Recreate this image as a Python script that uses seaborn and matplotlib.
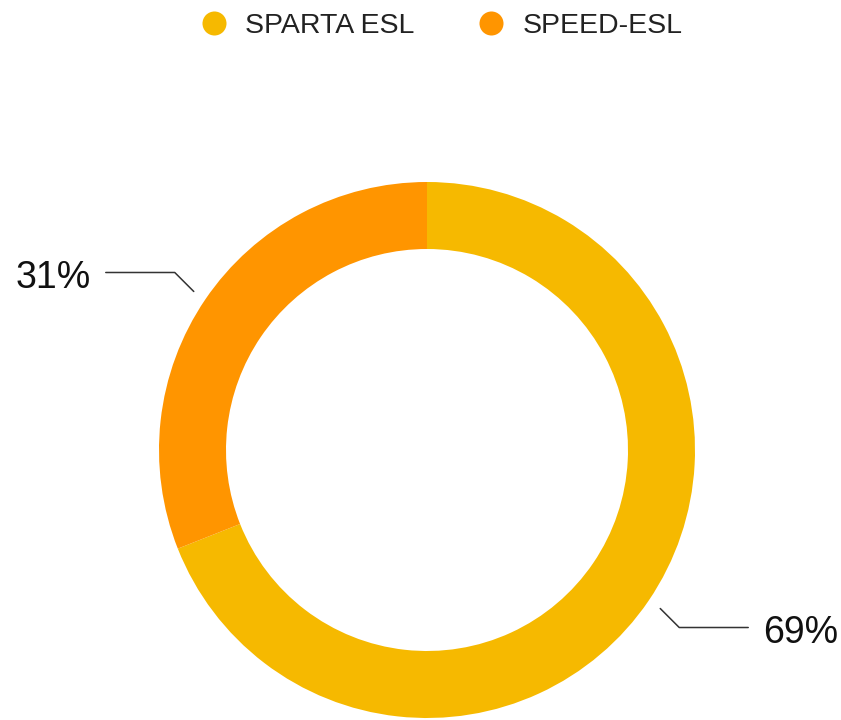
import numpy as np
import matplotlib.pyplot as plt
import seaborn as sns
from matplotlib.lines import Line2D

# data
labels = ["SPARTA ESL", "SPEED-ESL"]
shares = [69, 31]
colors = ["#F6B900", "#FF9500"]

sns.set_theme(style="white")
plt.rcParams['font.family'] = ['Liberation Sans', 'DejaVu Sans']

fig = plt.figure(figsize=(8.41, 7.2), dpi=100)
ax = fig.add_axes([0, 0, 1, 1])

cx, cy, r = 427, 270, 268
wedges, _ = ax.pie(shares, colors=colors, startangle=90, counterclock=False,
                   radius=r, center=(cx, cy), frame=True,
                   wedgeprops=dict(width=67, linewidth=0))
ax.set_xlim(0, 841)
ax.set_ylim(0, 720)
ax.axis("off")

# leader lines + percent labels
for w, s in zip(wedges, shares):
    mid = np.deg2rad((w.theta1 + w.theta2) / 2)
    sx = 1 if np.cos(mid) > 0 else -1
    sy = 1 if np.sin(mid) > 0 else -1
    x0, y0 = cx + 282 * np.cos(mid), cy + 282 * np.sin(mid)
    x1, y1 = x0 + sx * 19, y0 + sy * 19
    x2 = x1 + sx * 69
    ax.plot([x0, x1, x2], [y0, y1, y1], color="#333333", lw=1.1)
    ax.text(x2 + sx * 15, y1 - 15.5, f"{s}%", ha="left" if sx > 0 else "right",
            va="baseline", fontsize=27, color="#111111")

handles = [Line2D([], [], marker="o", linestyle="", markersize=17.3,
                  markerfacecolor=c, markeredgewidth=0) for c in colors]
fig.legend(handles, labels, loc="center", bbox_to_anchor=(442 / 841, 1 - 26 / 720),
           ncol=2, frameon=False, fontsize=20.5, handlelength=0.88,
           handletextpad=0.66, columnspacing=2.25, labelcolor="#222222",
           borderpad=0, borderaxespad=0)

fig.savefig("out.png", dpi=100)
